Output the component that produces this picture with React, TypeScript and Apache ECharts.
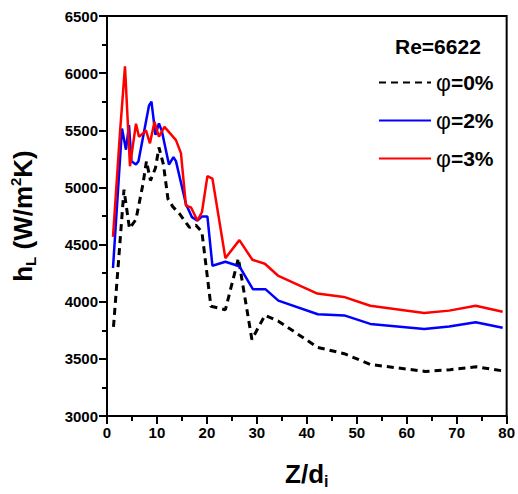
import React, { useEffect, useRef } from "react";
import * as echarts from "echarts";

const seriesNames = ["φ=0%", "φ=2%", "φ=3%"];
const reynoldsLabel = "Re=6622";

const zPhi0 = [1.3, 3.4, 4.5, 5.8, 7.2, 7.9, 8.7, 9.7, 10.4, 11.3, 12.2, 13.2, 14.5, 16.5, 17.8, 19.0, 20.8, 23.7, 26.3, 29.0, 31.6, 34.3, 42.2, 47.5, 52.8, 63.7, 68.7, 73.9, 79.2];
const hPhi0 = [3780, 4980, 4640, 4720, 5030, 5230, 5060, 5170, 5350, 5200, 4900, 4830, 4770, 4650, 4670, 4610, 3960, 3930, 4380, 3670, 3880, 3830, 3600, 3545, 3450, 3390, 3405, 3430, 3395];

const zPhi2 = [1.2, 3.0, 3.8, 4.4, 4.9, 5.8, 6.3, 8.4, 8.9, 9.7, 10.4, 11.0, 12.4, 13.3, 13.8, 15.8, 17.0, 18.1, 19.0, 20.1, 21.1, 23.7, 26.5, 29.2, 31.7, 34.3, 42.2, 47.5, 52.7, 63.5, 68.5, 73.8, 79.2];
const hPhi2 = [4295, 5515, 5330, 5545, 5230, 5200, 5230, 5715, 5750, 5460, 5560, 5490, 5200, 5265, 5230, 4855, 4740, 4710, 4745, 4745, 4315, 4350, 4310, 4110, 4110, 4010, 3890, 3880, 3806, 3762, 3784, 3821, 3773];

const zPhi3 = [1.2, 2.6, 3.6, 4.6, 5.8, 6.4, 7.2, 7.8, 8.6, 9.5, 10.4, 11.5, 13.2, 13.8, 14.8, 15.8, 16.8, 18.1, 19.0, 20.1, 21.1, 23.7, 26.5, 29.1, 31.6, 34.2, 42.1, 47.4, 52.7, 63.5, 68.5, 73.8, 79.2];
const hPhi3 = [4568, 5480, 6060, 5185, 5558, 5444, 5472, 5500, 5386, 5573, 5444, 5530, 5444, 5414, 5300, 4841, 4826, 4711, 4783, 5099, 5078, 4381, 4539, 4367, 4332, 4229, 4071, 4042, 3965, 3902, 3922, 3965, 3913];

const pair = (xs: number[], ys: number[]) => xs.map((x, i) => [x, ys[i]]);

const FONT = "Arial, 'Liberation Sans', sans-serif";

export default function App() {
  const ref = useRef<HTMLDivElement>(null);
  useEffect(() => {
    if (!ref.current) return;
    const chart = echarts.init(ref.current, undefined, { renderer: "svg" });
    const axisCommon = {
      axisLine: { show: true, lineStyle: { color: "#000", width: 2 } },
      axisTick: { show: true, inside: false, length: 8, lineStyle: { color: "#000", width: 2 } },
      minorTick: { show: true, splitNumber: 2, length: 5, lineStyle: { color: "#000", width: 2 } },
      splitLine: { show: false },
      axisLabel: {
        color: "#000",
        fontWeight: "bold",
        fontSize: 15,
        fontFamily: FONT,
        margin: 9,
        formatter: (v: number) => String(v),
      },
    };
    chart.setOption({
      animation: false,
      backgroundColor: "#fff",
      title: {
        text: reynoldsLabel,
        left: 390,
        top: 31,
        textStyle: { fontFamily: FONT, fontWeight: "bold", fontSize: 21, color: "#000" },
      },
      legend: {
        orient: "vertical",
        left: 373,
        top: 66,
        itemWidth: 52,
        itemHeight: 14,
        itemGap: 15,
        data: seriesNames,
        itemStyle: { opacity: 0 },
        formatter: (name: string) => `{p|${name.slice(0, 1)}}{b|${name.slice(1)}}`,
        textStyle: {
          color: "#000",
          rich: {
            p: { fontFamily: FONT, fontSize: 23, color: "#000", fontWeight: "normal" },
            b: { fontFamily: FONT, fontSize: 21, fontWeight: "bold", color: "#000" },
          },
        },
      },
      grid: {
        left: 105,
        right: 8,
        top: 16,
        bottom: 72,
        show: true,
        borderColor: "#000",
        borderWidth: 2,
        backgroundColor: "transparent",
      },
      xAxis: {
        type: "value",
        min: 0,
        max: 80,
        interval: 10,
        ...axisCommon,
        name: "{a|Z/d}{s|i}",
        nameLocation: "middle",
        nameGap: 43,
        nameTextStyle: {
          rich: {
            a: { fontFamily: FONT, fontWeight: "bold", fontSize: 26, color: "#000", lineHeight: 30 },
            s: { fontFamily: FONT, fontWeight: "bold", fontSize: 16, color: "#000", lineHeight: 12, verticalAlign: "bottom" },
          },
        },
      },
      yAxis: {
        type: "value",
        min: 3000,
        max: 6500,
        interval: 500,
        ...axisCommon,
        name: "{a|h}{s|L}{a| (W/m}{u|2}{a|K)}",
        nameLocation: "middle",
        nameRotate: 90,
        nameGap: 69,
        nameTextStyle: {
          rich: {
            a: { fontFamily: FONT, fontWeight: "bold", fontSize: 26, color: "#000", lineHeight: 30 },
            s: { fontFamily: FONT, fontWeight: "bold", fontSize: 15, color: "#000", lineHeight: 12, verticalAlign: "bottom" },
            u: { fontFamily: FONT, fontWeight: "bold", fontSize: 15, color: "#000", lineHeight: 14, verticalAlign: "top" },
          },
        },
      },
      series: [
        {
          name: seriesNames[0],
          type: "line",
          data: pair(zPhi0, hPhi0),
          showSymbol: false,
          symbol: "none",
          lineStyle: { color: "#000", width: 3, type: [7, 5] },
          itemStyle: { color: "#000" },
        },
        {
          name: seriesNames[1],
          type: "line",
          data: pair(zPhi2, hPhi2),
          showSymbol: false,
          symbol: "none",
          lineStyle: { color: "#0000ff", width: 2.5 },
          itemStyle: { color: "#0000ff" },
        },
        {
          name: seriesNames[2],
          type: "line",
          data: pair(zPhi3, hPhi3),
          showSymbol: false,
          symbol: "none",
          lineStyle: { color: "#ff0000", width: 2.5 },
          itemStyle: { color: "#ff0000" },
        },
      ],
    });
    return () => chart.dispose();
  }, []);
  return <div ref={ref} style={{ width: 518, height: 494, position: "absolute", left: 0, top: 0 }} />;
}
